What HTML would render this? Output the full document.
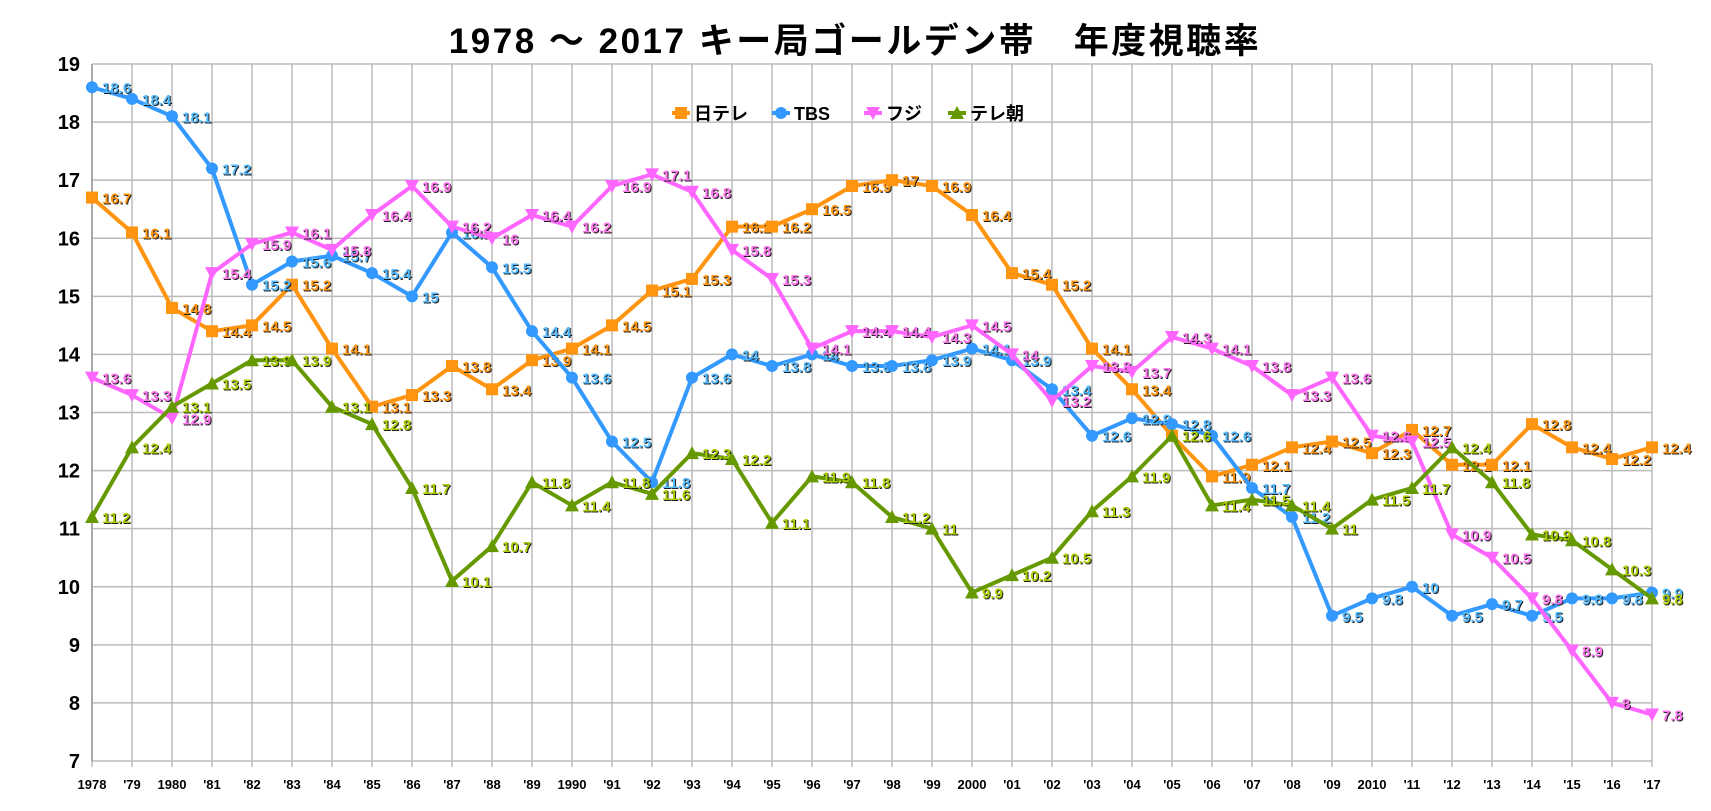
<!DOCTYPE html>
<html><head><meta charset="utf-8"><style>
body{margin:0;background:#fff;}
svg text{font-family:"Liberation Sans","Noto Sans CJK JP",sans-serif;font-weight:bold;}
</style></head><body>
<svg id="chart" width="1711" height="806" xmlns="http://www.w3.org/2000/svg">
<text x="855" y="53" text-anchor="middle" font-size="35" letter-spacing="2.5">1978 ～ 2017  キー局ゴールデン帯　年度視聴率</text>
<g id="grid"></g><g id="series"></g><g id="legend"></g>
</svg>
<script>
const years=["1978","'79","1980","'81","'82","'83","'84","'85","'86","'87","'88","'89","1990","'91","'92","'93","'94","'95","'96","'97","'98","'99","2000","'01","'02","'03","'04","'05","'06","'07","'08","'09","2010","'11","'12","'13","'14","'15","'16","'17"];
const yTicks=[7,8,9,10,11,12,13,14,15,16,17,18,19];
const ntv=[16.7,16.1,14.8,14.4,14.5,15.2,14.1,13.1,13.3,13.8,13.4,13.9,14.1,14.5,15.1,15.3,16.2,16.2,16.5,16.9,17,16.9,16.4,15.4,15.2,14.1,13.4,12.6,11.9,12.1,12.4,12.5,12.3,12.7,12.1,12.1,12.8,12.4,12.2,12.4];
const tbs=[18.6,18.4,18.1,17.2,15.2,15.6,15.7,15.4,15,16.1,15.5,14.4,13.6,12.5,11.8,13.6,14,13.8,14,13.8,13.8,13.9,14.1,13.9,13.4,12.6,12.9,12.8,12.6,11.7,11.2,9.5,9.8,10,9.5,9.7,9.5,9.8,9.8,9.9];
const fuji=[13.6,13.3,12.9,15.4,15.9,16.1,15.8,16.4,16.9,16.2,16,16.4,16.2,16.9,17.1,16.8,15.8,15.3,14.1,14.4,14.4,14.3,14.5,14,13.2,13.8,13.7,14.3,14.1,13.8,13.3,13.6,12.6,12.5,10.9,10.5,9.8,8.9,8,7.8];
const tvasahi=[11.2,12.4,13.1,13.5,13.9,13.9,13.1,12.8,11.7,10.1,10.7,11.8,11.4,11.8,11.6,12.3,12.2,11.1,11.9,11.8,11.2,11,9.9,10.2,10.5,11.3,11.9,12.6,11.4,11.5,11.4,11,11.5,11.7,12.4,11.8,10.9,10.8,10.3,9.8];
const seriesNames=["日テレ","TBS","フジ","テレ朝"];
const NS="http://www.w3.org/2000/svg";
const X0=92,X1=1652,YT=64,YB=761,VMIN=7,VMAX=19;
const xs=i=>X0+i*(X1-X0)/(years.length-1);
const ys=v=>YB-(v-VMIN)*(YB-YT)/(VMAX-VMIN);
function mk(tag,attrs,parent,txt){const e=document.createElementNS(NS,tag);for(const k in attrs)e.setAttribute(k,attrs[k]);if(txt!==undefined)e.textContent=txt;parent.appendChild(e);return e;}
const grid=document.getElementById('grid');
yTicks.forEach(v=>{
  const l=mk('line',{x1:X0,x2:X1,y1:ys(v),y2:ys(v),stroke:'#bbb','stroke-width':1.5},grid);
  
  
  const t=mk('text',{x:X0-12,y:ys(v)+7,'text-anchor':'end','font-size':20},grid,String(v));
  
  
});
years.forEach((y,i)=>{
  const l=mk('line',{x1:xs(i),x2:xs(i),y1:YT,y2:YB+6,stroke:'#bbb','stroke-width':1.5},grid);
  
  
  const t=mk('text',{x:xs(i),y:YB+28,'text-anchor':'middle','font-size':13},grid,y);
  
  
});
mk('line',{x1:X0,x2:X0,y1:YT,y2:YB,stroke:'#999','stroke-width':1.5},grid);
const sg=document.getElementById('series');
const defs=[{d:ntv,c:'#ff9411',lc:'#ff9411',m:'sq'},{d:tbs,c:'#3399ff',lc:'#55bbff',m:'ci'},{d:fuji,c:'#ff66ff',lc:'#ff77ee',m:'td'},{d:tvasahi,c:'#669900',lc:'#aacc00',m:'tu'}];
function marker(type,x,y,c,g){
  let e;
  if(type==='sq')e=mk('rect',{x:x-6,y:y-6,width:12,height:12,fill:c},g);
  else if(type==='ci')e=mk('circle',{cx:x,cy:y,r:6,fill:c},g);
  else if(type==='tu')e=mk('polygon',{points:`${x-7},${y+6} ${x+7},${y+6} ${x},${y-7}`,fill:c},g);
  else e=mk('polygon',{points:`${x-7},${y-6} ${x+7},${y-6} ${x},${y+7}`,fill:c},g);
  return e;
}
defs.forEach((s,k)=>{
  const g=mk('g',{},sg);
  
  
  const pts=s.d.map((v,i)=>xs(i)+','+ys(v)).join(' ');
  const pl=mk('polyline',{points:pts,fill:'none',stroke:s.c,'stroke-width':4,'stroke-linejoin':'round'},g);
  
  
  s.d.forEach((v,i)=>{
    const m=marker(s.m,xs(i),ys(v),s.c,g);
    
    
    mk('text',{x:xs(i)+11,y:ys(v)+7,'font-size':15,fill:'#222'},g,String(v));
    const t=mk('text',{x:xs(i)+10,y:ys(v)+6,'font-size':15,fill:s.lc},g,String(v));
    
    
  });
});
const lg=document.getElementById('legend');
let lx=672;const ly=113;
const lw=[100,92,84,90];
seriesNames.forEach((n,k)=>{
  const g=mk('g',{},lg);
  
  
  mk('line',{x1:lx,x2:lx+18,y1:ly,y2:ly,stroke:defs[k].c,'stroke-width':4},g);
  marker(defs[k].m,lx+9,ly,defs[k].c,g);
  mk('text',{x:lx+22,y:ly+7,'font-size':18},g,n);
  lx+=lw[k];
});
</script>
</body></html>
